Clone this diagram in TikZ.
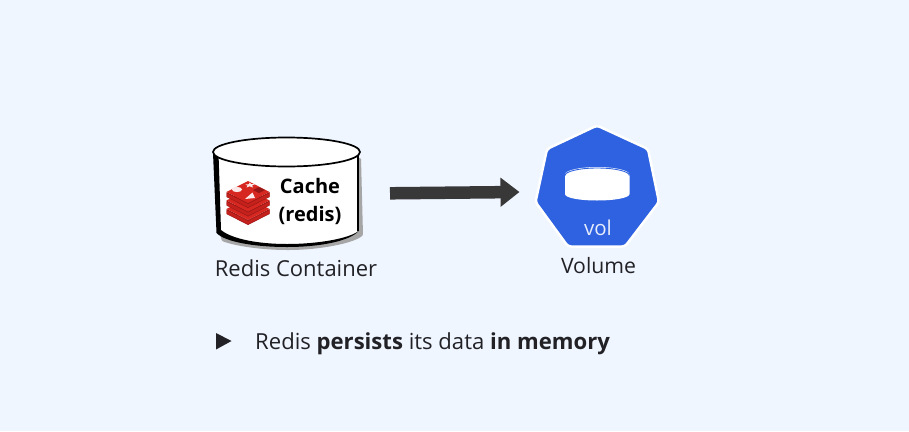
\documentclass[tikz,border=0pt]{standalone}
\usepackage{fontspec}
\setmainfont{Open Sans}
\usetikzlibrary{arrows.meta,calc}
\definecolor{bgc}{RGB}{239,246,255}
\definecolor{inkc}{RGB}{34,34,38}
\definecolor{kblue}{RGB}{46,98,224}
\definecolor{rd}{RGB}{214,40,32}
\definecolor{rdd}{RGB}{150,24,22}
\definecolor{rdl}{RGB}{196,32,28}
\tikzset{
 lbl/.style={font=\fontsize{22}{26}\selectfont,text=inkc,inner sep=0pt,anchor=base},
 vollbl/.style={font=\fontsize{21.2}{26}\selectfont,text=inkc,inner sep=0pt,anchor=base},
 notelbl/.style={font=\fontsize{22.1}{26}\selectfont,text=inkc,inner sep=0pt,anchor=base west},
 cachetxt/.style={font=\fontsize{20}{26}\selectfont\bfseries,text=black,inner sep=0pt,anchor=base},
 voltxt/.style={font=\fontsize{20.5}{24}\selectfont,text=white!88!kblue,inner sep=0pt,anchor=base},
 link/.style={draw=black!78,line width=12.5pt,-{Triangle[length=19pt,width=28pt]}},
}
\begin{document}
\begin{tikzpicture}[x=1pt,y=-1pt]
\useasboundingbox (0,0) rectangle (909,431);
\fill[bgc] (0,0) rectangle (909,431);
% cylinder shadow
\fill[black!35,rounded corners=1pt] (361,158) -- (363,235) .. controls (355,243) and (320,250) .. (288,250)
  .. controls (262,250) and (235,246) .. (222,241) -- (218,228) -- (340,160) -- cycle;
% cylinder body
\path[fill=white] (215,152) -- (218,232) .. controls (225,240) and (255,246) .. (287,246)
  .. controls (320,246) and (350,240) .. (358,231) -- (358,152) -- cycle;
\draw[black,line width=1.4pt] (358,152) -- (358,231);
\fill[black] (213,153) -- (216.5,233) .. controls (225,242) and (255,247) .. (287,247)
  .. controls (320,247) and (350,241) .. (358.5,231)
  .. controls (350,238) and (320,244) .. (287,244)
  .. controls (258,244) and (232,239) .. (221,230) -- (218.5,153) -- cycle;
\draw[black,line width=1.7pt,fill=white] (286.5,152) ellipse [x radius=73.5,y radius=14.5];
% redis logo, three stacked layers
\foreach \dy in {17,8.5,0}{
 \fill[rdd] (226.5,\dy+192) -- (248,\dy+203) -- (269.5,\dy+192) -- (269.5,\dy+197) -- (248,\dy+208) -- (226.5,\dy+197) -- cycle;
 \fill[rdl] (226.5,\dy+193.2) -- (248,\dy+204) -- (269.5,\dy+193.2) -- (269.5,\dy+196.5) -- (248,\dy+207.3) -- (226.5,\dy+196.5) -- cycle;
 \fill[rd] (226.5,\dy+192) -- (248,\dy+181) -- (269.5,\dy+192) -- (248,\dy+203) -- cycle;
}
\fill[white!90!rd] (237,189.5) ellipse [x radius=5,y radius=2.6];
\fill[white!90!rd] (245,199) -- (255,198) -- (252.5,192.5) -- cycle;
\fill[white!90!rd] (245.5,184.5) -- (249,184.2) -- (249.5,182.5) -- (251,184) -- (255,184) -- (252,185.5) -- (253,187.5) -- (249.5,186.3) -- (246.5,187.5) -- (247.5,185.5) -- cycle;
\fill[rdd] (253,190) -- (259,187) -- (265,190) -- (259,193) -- cycle;
% cylinder text
\node[cachetxt] (cache) at (310,193) {Cache};
\node[cachetxt] (redis) at (310,221) {(redis)};
\node[lbl] (rc) at (296,276) {Redis Container};
% volume
\filldraw[fill=kblue,draw=white,line width=2.5pt,line join=round,rounded corners=3pt]
  (597,125.5) -- (648,149) -- (659,202) -- (625,246.5) -- (568,246.5) -- (535.5,202) -- (547,149) -- cycle;
\fill[white] (565,175) -- (565,194) .. controls (565,198) and (580,200.5) .. (597,200.5)
  .. controls (614,200.5) and (629.5,198) .. (629.5,194) -- (629.5,175) -- cycle;
\fill[white] (597.2,174.5) ellipse [x radius=32.2,y radius=7.5];
\draw[kblue,line width=0.9pt] (565,175.5) arc [start angle=180,end angle=360,x radius=32.2,y radius=7.5];
\node[voltxt] (vol) at (598,235) {vol};
\node[vollbl] (volume) at (598.5,273) {Volume};
% arrow
\coordinate (arrowstart) at (390,193.3);
\coordinate (arrowend) at (519.5,192);
\draw[link] (arrowstart) -- (arrowend);
% bullet
\fill[inkc] (216,333) -- (231.5,341) -- (216,349.5) -- cycle;
\node[notelbl] (note) at (255,349) {Redis \textbf{persists} its data \textbf{in memory}};
\end{tikzpicture}
\end{document}
